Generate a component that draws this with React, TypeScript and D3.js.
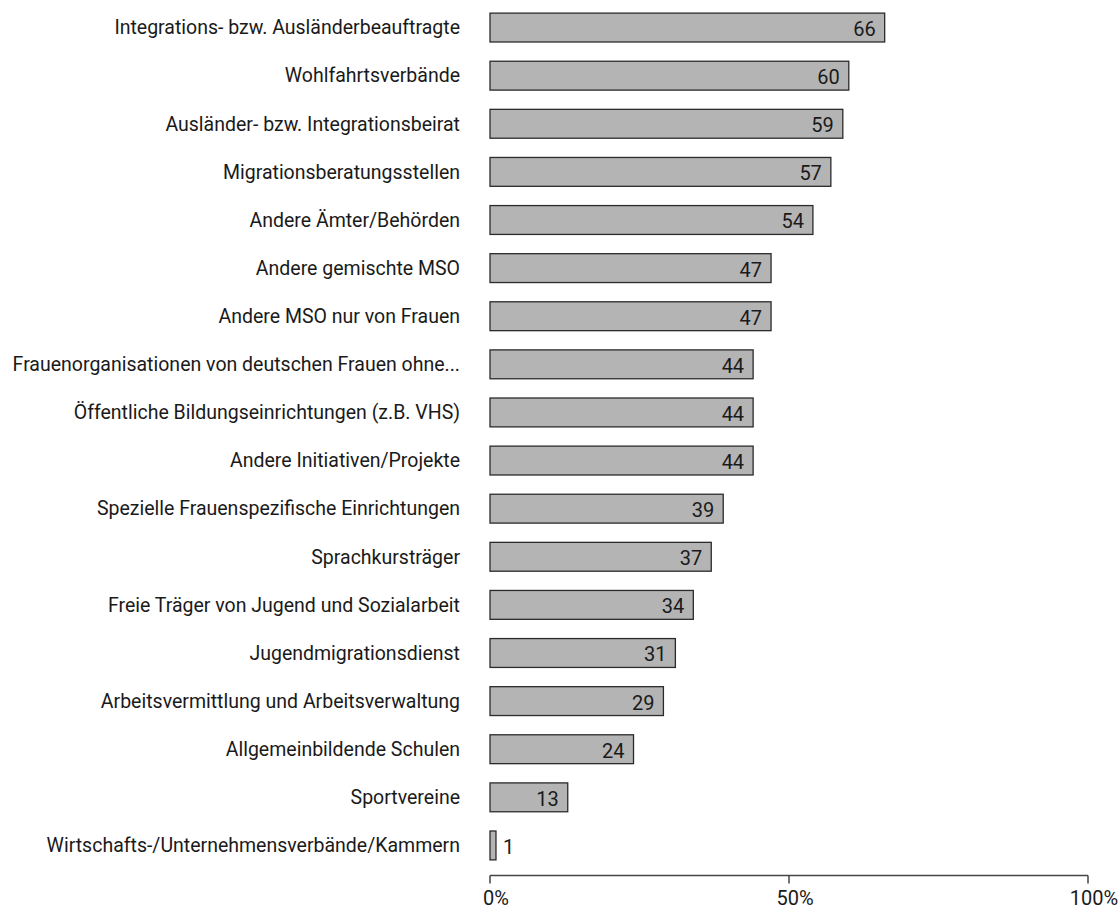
import React from 'react';
import * as d3 from 'd3';

const categories = [
  'Integrations- bzw. Ausländerbeauftragte',
  'Wohlfahrtsverbände',
  'Ausländer- bzw. Integrationsbeirat',
  'Migrationsberatungsstellen',
  'Andere Ämter/Behörden',
  'Andere gemischte MSO',
  'Andere MSO nur von Frauen',
  'Frauenorganisationen von deutschen Frauen ohne...',
  'Öffentliche Bildungseinrichtungen (z.B. VHS)',
  'Andere Initiativen/Projekte',
  'Spezielle Frauenspezifische Einrichtungen',
  'Sprachkursträger',
  'Freie Träger von Jugend und Sozialarbeit',
  'Jugendmigrationsdienst',
  'Arbeitsvermittlung und Arbeitsverwaltung',
  'Allgemeinbildende Schulen',
  'Sportvereine',
  'Wirtschafts-/Unternehmensverbände/Kammern',
];

const values = [66, 60, 59, 57, 54, 47, 47, 44, 44, 44, 39, 37, 34, 31, 29, 24, 13, 1];

const ticks = [0, 50, 100];

const W = 1119;
const H = 910;
const FONT = 'Roboto, "Liberation Sans", sans-serif';

const App: React.FC = () => {
  const x = d3.scaleLinear().domain([0, 100]).range([490, 1088]);
  const y = d3
    .scaleBand<string>()
    .domain(categories)
    .range([3.5, 869.5])
    .paddingInner(0.4)
    .paddingOuter(0.2);

  const axisY = 875.5;
  const bw = y.bandwidth();

  return (
    <div style={{ position: 'absolute', left: 0, top: 0 }}>
      <svg width={W} height={H} style={{ display: 'block', fontFamily: FONT }}>
        <rect width={W} height={H} fill="#fff" />
        {categories.map((c, i) => {
          const v = values[i];
          const y0 = y(c) as number;
          const cy = y0 + bw / 2;
          const inside = v >= 5;
          return (
            <g key={c}>
              <text x={x(0) - 30} y={cy} dy="0.35em" textAnchor="end" fontSize={19.5} fill="#1a1a1a">
                {c}
              </text>
              <rect
                x={x(0)}
                y={y0}
                width={x(v) - x(0)}
                height={bw}
                fill="#b4b4b4"
                stroke="#2b2b2b"
                strokeWidth={1.3}
              />
              <text
                x={inside ? x(v) - 9 : x(v) + 7}
                y={cy}
                dy="0.42em"
                textAnchor={inside ? 'end' : 'start'}
                fontSize={20}
                fill="#1a1a1a"
              >
                {v}
              </text>
            </g>
          );
        })}
        <g>
          <line x1={x(0)} x2={x(100)} y1={axisY} y2={axisY} stroke="#444" strokeWidth={1.5} />
          {ticks.map((t) => (
            <g key={t}>
              <line x1={x(t)} x2={x(t)} y1={axisY} y2={axisY + 8} stroke="#444" strokeWidth={1.5} />
              <text x={x(t) + 6} y={905} textAnchor="middle" fontSize={20} fill="#1a1a1a">
                {t}%
              </text>
            </g>
          ))}
        </g>
      </svg>
    </div>
  );
};

export default App;
